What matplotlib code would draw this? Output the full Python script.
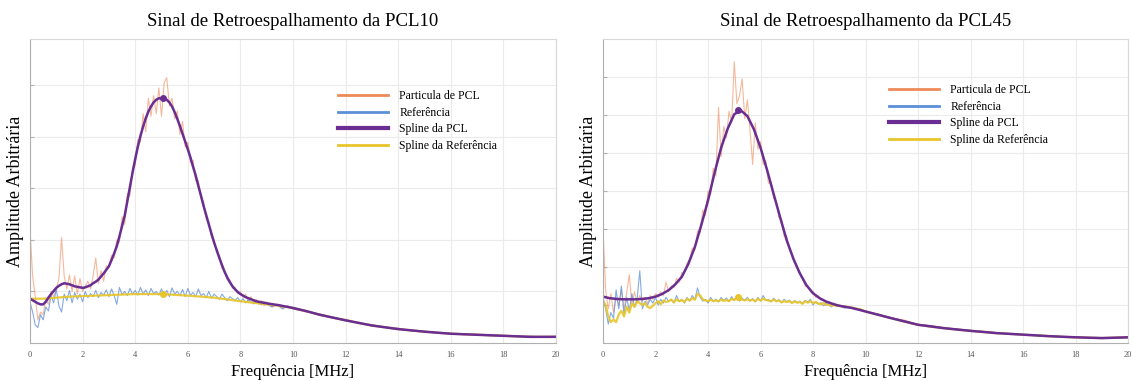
import matplotlib
matplotlib.use("Agg")
import matplotlib.pyplot as plt
import numpy as np

plt.rcParams['font.family'] = ['Liberation Serif', 'DejaVu Serif']

# frequency grids [MHz]
f_fine = np.round(np.arange(0, 9.05, 0.1), 1)
f_tail = [9.2, 9.4, 9.6, 9.8, 10, 10.5, 11, 11.5, 12, 12.5, 13, 13.5, 14,
          14.5, 15, 15.5, 16, 16.5, 17, 17.5, 18, 18.5, 19, 19.5, 20]
f_raw = np.concatenate([f_fine, f_tail])
f_spl_tail = [9.5, 10, 10.5, 11, 12, 13, 14, 15, 16, 17, 18, 19, 20]

# ---------- PCL10 ----------
pcl10_raw = [2.2, 1.3, 0.9, 0.45, 0.6, 0.55, 0.85, 0.75, 1.0, 0.9,
             1.05, 1.25, 2.05, 1.3, 1.05, 1.32, 1.0, 1.3, 0.95, 1.25,
             1.0, 1.1, 1.2, 1.05, 1.3, 1.65, 1.15, 1.4, 1.2, 1.5,
             1.45, 1.7, 1.65, 2.0, 1.95, 2.45, 2.3, 2.9, 2.85, 3.4,
             3.45, 3.95, 3.9, 4.45, 4.1, 4.75, 4.4, 4.8, 4.45, 4.95,
             4.4, 5.05, 5.15, 4.6, 4.75, 4.35, 4.5, 4.05, 4.3, 3.8,
             3.9, 3.5, 3.55, 3.15, 3.15, 2.8, 2.75, 2.4, 2.35, 2.05,
             2.0, 1.75, 1.7, 1.45, 1.4, 1.22, 1.22, 1.06, 1.08, 0.95,
             1.0, 0.88, 0.95, 0.8, 0.9, 0.78, 0.85, 0.75, 0.82, 0.72,
             0.8,
             0.7, 0.76, 0.68, 0.72, 0.66, 0.6, 0.57, 0.48, 0.46, 0.38, 0.36, 0.30,
             0.29, 0.23, 0.23, 0.19, 0.19, 0.16, 0.17, 0.14, 0.15, 0.13, 0.13, 0.12, 0.13]
ref10_raw = [0.8, 0.6, 0.35, 0.3, 0.55, 0.45, 0.7, 0.62, 0.92, 0.78,
             1.05, 0.72, 0.6, 0.95, 0.82, 1.02, 0.78, 0.98, 0.85, 0.95,
             0.8, 1.0, 0.88, 0.96, 0.9, 1.02, 0.88, 0.98, 0.93, 1.03,
             0.9, 1.05, 0.92, 0.75, 1.08, 0.94, 1.0, 0.92, 1.06, 0.95,
             1.02, 0.93, 1.08, 0.95, 1.03, 0.92, 1.06, 0.96, 1.0, 0.93,
             1.05, 0.94, 1.02, 0.9, 1.07, 0.95, 1.0, 0.92, 1.04, 0.9,
             1.06, 0.93, 0.98, 0.9, 1.05, 0.92, 0.96, 0.88, 1.0, 0.87,
             0.95, 0.9, 0.85, 0.95, 0.88, 0.82, 0.9, 0.86, 0.83, 0.88,
             0.8, 0.86, 0.78, 0.84, 0.8, 0.76, 0.82, 0.78, 0.74, 0.8,
             0.75,
             0.7, 0.74, 0.66, 0.72, 0.66, 0.62, 0.56, 0.49, 0.45, 0.39, 0.35, 0.31,
             0.28, 0.24, 0.22, 0.2, 0.18, 0.17, 0.16, 0.15, 0.14, 0.13, 0.13, 0.12, 0.12]
pcl10_spline = [0.86, 0.83, 0.80, 0.77, 0.75, 0.75, 0.80, 0.88, 0.95, 1.01,
                1.07, 1.11, 1.14, 1.16, 1.15, 1.14, 1.12, 1.10, 1.09, 1.08,
                1.07, 1.08, 1.10, 1.12, 1.16, 1.19, 1.23, 1.29, 1.35, 1.42,
                1.49, 1.61, 1.74, 1.88, 2.07, 2.27, 2.47, 2.75, 3.03, 3.31,
                3.57, 3.81, 4.02, 4.20, 4.36, 4.49, 4.59, 4.67, 4.72, 4.75,
                4.75, 4.74, 4.72, 4.67, 4.59, 4.48, 4.35, 4.21, 4.06, 3.91,
                3.76, 3.60, 3.42, 3.25, 3.05, 2.86, 2.66, 2.48, 2.30, 2.12,
                1.95, 1.80, 1.65, 1.51, 1.38, 1.27, 1.18, 1.10, 1.04, 0.99,
                0.95, 0.92, 0.89, 0.87, 0.85, 0.83, 0.81, 0.80, 0.79, 0.78,
                0.77,
                0.73, 0.68, 0.62, 0.55, 0.44, 0.34, 0.27, 0.22, 0.18, 0.16, 0.14, 0.12, 0.12]
f_ref10_spline = [0, 0.5, 1, 1.5, 2, 3, 4, 5, 6, 7, 8, 8.5, 9, 9.5, 10, 10.5,
                  11, 12, 13, 14, 15, 16, 17, 18, 19, 20]
ref10_spline = [0.86, 0.86, 0.88, 0.9, 0.91, 0.93, 0.95, 0.95, 0.92, 0.88, 0.81,
                0.78, 0.75, 0.72, 0.68, 0.62, 0.55, 0.44, 0.34, 0.27, 0.22, 0.18,
                0.16, 0.14, 0.12, 0.12]
pcl10_peak = (5.07, 4.75)
ref10_mark = (5.07, 0.95)

# ---------- PCL45 ----------
pcl45_raw = [3.0, 1.4, 0.9, 1.3, 0.8, 1.2, 1.0, 1.4, 0.9, 1.3,
             1.8, 1.0, 1.35, 1.05, 1.25, 1.1, 1.2, 1.05, 1.25, 1.15,
             1.3, 1.2, 1.35, 1.25, 1.6, 1.35, 1.5, 1.45, 1.7, 1.6,
             1.85, 1.85, 2.1, 2.2, 2.5, 2.45, 2.95, 2.9, 3.5, 3.35,
             4.0, 3.9, 4.6, 4.4, 6.2, 4.9, 5.7, 5.4, 6.1, 5.8,
             7.4, 6.3, 6.5, 6.95, 5.9, 6.4, 5.6, 4.7, 5.8, 5.1,
             5.3, 4.7, 4.8, 4.2, 4.25, 3.8, 3.75, 3.3, 3.25, 2.8,
             2.8, 2.45, 2.35, 2.1, 1.95, 1.85, 1.7, 1.5, 1.48, 1.35,
             1.35, 1.2, 1.24, 1.12, 1.15, 1.05, 1.1, 1.0, 1.05, 0.96,
             1.0,
             0.93, 0.96, 0.88, 0.9, 0.82, 0.76, 0.66, 0.6, 0.49, 0.46, 0.4, 0.37,
             0.33, 0.31, 0.27, 0.25, 0.22, 0.21, 0.19, 0.17, 0.16, 0.14, 0.14, 0.13, 0.15]
ref45_raw = [1.2, 0.9, 0.5, 0.8, 0.65, 1.4, 0.9, 1.5, 0.75, 1.2,
             0.85, 1.3, 0.95, 1.15, 1.9, 0.9, 1.1, 1.0, 1.15, 1.05,
             1.2, 1.0, 1.15, 1.05, 1.2, 1.1, 1.15, 1.05, 1.25, 1.1,
             1.15, 1.05, 1.2, 1.1, 1.25, 1.15, 1.45, 1.2, 1.1, 1.15,
             1.05, 1.2, 1.1, 1.15, 1.08, 1.2, 1.12, 1.18, 1.1, 1.22,
             1.12, 1.25, 1.1, 1.18, 1.12, 1.2, 1.1, 1.17, 1.08, 1.2,
             1.1, 1.25, 1.12, 1.15, 1.08, 1.18, 1.1, 1.14, 1.06, 1.15,
             1.08, 1.13, 1.05, 1.12, 1.06, 1.1, 1.04, 1.12, 1.08, 1.15,
             1.0, 1.08, 1.02, 1.06, 0.98, 1.04, 1.0, 0.95, 1.02, 0.96,
             0.98,
             0.92, 0.94, 0.88, 0.89, 0.82, 0.75, 0.66, 0.58, 0.49, 0.45, 0.4, 0.36,
             0.33, 0.3, 0.27, 0.24, 0.22, 0.2, 0.19, 0.17, 0.16, 0.14, 0.14, 0.13, 0.14]
f_pcl45_spline = list(np.arange(0, 9.01, 0.25)) + f_spl_tail
pcl45_spline = [1.22, 1.18, 1.16, 1.15, 1.15, 1.15, 1.16, 1.18, 1.22, 1.29,
                1.39, 1.54, 1.74, 2.08, 2.53, 3.12, 3.75, 4.48, 5.14, 5.64,
                6.02, 6.12, 5.97, 5.62, 5.14, 4.55, 3.92, 3.30, 2.70, 2.22,
                1.83, 1.52, 1.31, 1.18, 1.09, 1.03, 0.98,
                0.92, 0.83, 0.74, 0.65, 0.48, 0.39, 0.32, 0.26, 0.22, 0.18, 0.15, 0.13, 0.15]
ref45_spline = [1.1, 1.0, 0.7, 0.55, 0.62, 0.55, 0.75, 0.85, 0.7, 0.95,
                0.8, 1.05, 0.95, 1.1, 1.05, 1.0, 1.05, 0.95, 0.92, 0.98,
                1.05, 1.1, 1.02, 1.12, 1.08, 1.1, 1.14, 1.07, 1.15, 1.1,
                1.13, 1.08, 1.16, 1.12, 1.18, 1.14, 1.3, 1.25, 1.15, 1.12,
                1.1, 1.14, 1.1, 1.12, 1.1, 1.14, 1.11, 1.13, 1.1, 1.16,
                1.13, 1.2, 1.15, 1.14, 1.12, 1.15, 1.12, 1.14, 1.1, 1.16,
                1.12, 1.17, 1.13, 1.12, 1.1, 1.14, 1.1, 1.12, 1.07, 1.1,
                1.08, 1.1, 1.05, 1.1, 1.06, 1.08, 1.03, 1.1, 1.06, 1.1,
                1.05, 1.08, 1.04, 1.02, 1.05, 1.0, 1.02, 0.98, 1.0, 0.97,
                0.98,
                0.96, 0.94, 0.91, 0.89, 0.83, 0.74, 0.65, 0.56, 0.48, 0.43, 0.39, 0.35,
                0.32, 0.29, 0.26, 0.24, 0.22, 0.2, 0.18, 0.16, 0.15, 0.14, 0.13, 0.14, 0.15]
pcl45_peak = (5.16, 6.12)
ref45_mark = (5.16, 1.22)

labels = ['Particula de PCL', 'Referência', 'Spline da PCL', 'Spline da Referência']
c_raw_pcl = '#ee8a5a'
c_raw_ref = '#5b8fd8'
c_spl_pcl = '#6a2d91'
c_spl_ref = '#e8c52a'

fig = plt.figure(figsize=(11.32, 3.81), dpi=100)
ax1 = fig.add_axes([0.0265, 0.0997, 0.4647, 0.798])
ax2 = fig.add_axes([0.5327, 0.0997, 0.4638, 0.798])

panels = [
    (ax1, 'Sinal de Retroespalhamento da PCL10', pcl10_raw, ref10_raw,
     np.concatenate([f_fine, f_spl_tail]), pcl10_spline, f_ref10_spline, ref10_spline,
     pcl10_peak, ref10_mark, 5.9, range(1, 6), (0.2986, 0.7638)),
    (ax2, 'Sinal de Retroespalhamento da PCL45', pcl45_raw, ref45_raw,
     f_pcl45_spline, pcl45_spline, f_raw, ref45_spline,
     pcl45_peak, ref45_mark, 8.0, range(1, 8), (0.7853, 0.7795)),
]

for ax, title, raw_p, raw_r, fsp, sp_p, fsr, sp_r, peak, mark, ytop, yt, leg_pos in panels:
    ax.plot(f_raw, raw_p, color=c_raw_pcl, lw=0.8, alpha=0.6)
    ax.plot(f_raw, raw_r, color=c_raw_ref, lw=0.8, alpha=0.75)
    ax.plot(fsr, sp_r, color=c_spl_ref, lw=1.6, alpha=0.9)
    ax.plot(fsp, sp_p, color=c_spl_pcl, lw=1.8)
    ax.plot(*peak, 'o', color=c_spl_pcl, ms=4)
    ax.plot(*mark, 'o', color=c_spl_ref, ms=4)

    ax.set_xlim(0, 20)
    ax.set_ylim(0, ytop)
    ax.set_xticks(range(0, 21, 2))
    ax.set_yticks(list(yt))
    ax.set_yticklabels([])
    ax.tick_params(axis='x', labelsize=6, length=0, pad=6, labelcolor='#555555')
    ax.tick_params(axis='y', length=3, direction='in', color='#b0b0b0')
    ax.grid(True, color='#ebebeb', lw=0.8)
    ax.set_axisbelow(True)
    for s in ax.spines.values():
        s.set_color('#d8d8d8')
        s.set_linewidth(0.8)
    ax.spines['left'].set_color('#b0b0b0')
    ax.spines['bottom'].set_color('#b0b0b0')

    ax.set_title(title, fontsize=13.5, pad=9)
    ax.set_xlabel('Frequência [MHz]', fontsize=12, labelpad=3)
    ax.set_ylabel('Amplitude Arbitrária', fontsize=13, labelpad=1)

    handles = [plt.Line2D([], [], color=c_raw_pcl, lw=2),
               plt.Line2D([], [], color=c_raw_ref, lw=2),
               plt.Line2D([], [], color=c_spl_pcl, lw=3),
               plt.Line2D([], [], color=c_spl_ref, lw=2)]
    fig.legend(handles, labels, loc='upper left', bbox_to_anchor=leg_pos,
               frameon=False, fontsize=8.5, handlelength=4.2, handletextpad=1.0,
               labelspacing=0.4, borderpad=0, borderaxespad=0)

fig.savefig('out.png', dpi=100)
